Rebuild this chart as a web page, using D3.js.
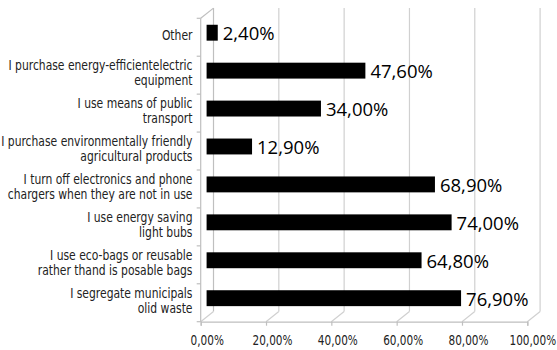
<!DOCTYPE html>
<html>
<head>
<meta charset="utf-8">
<script src="https://cdn.jsdelivr.net/npm/d3@7"></script>
<style>
  html, body { margin: 0; padding: 0; background: #ffffff; }
  svg { display: block; }
</style>
</head>
<body>
<svg id="chart" width="557" height="350"></svg>
<script>
// Survey answers, listed top to bottom as they appear on the chart
const categories = [
  "Other",
  "I purchase energy-efficientelectric equipment",
  "I use means of public transport",
  "I purchase environmentally friendly agricultural products",
  "I turn off electronics and phone chargers when they are not in use",
  "I use energy saving light bubs",
  "I use eco-bags or reusable rather thand is posable bags",
  "I segregate municipals olid waste"
];
// How each label wraps onto lines
const categoryLines = [
  ["Other"],
  ["I purchase energy-efficientelectric", "equipment"],
  ["I use means of public", "transport"],
  ["I purchase environmentally friendly", "agricultural products"],
  ["I turn off electronics and phone", "chargers when they are not in use"],
  ["I use energy saving", "light bubs"],
  ["I use eco-bags or reusable", "rather thand is posable bags"],
  ["I segregate municipals", "olid waste"]
];
// Share of respondents, in percent
const values = [2.4, 47.6, 34.0, 12.9, 68.9, 74.0, 64.8, 76.9];
// Value axis ticks, in percent
const xTicks = [0, 20, 40, 60, 80, 100];

const svg = d3.select("#chart");

// Front plane of the 3-D box, plus the depth offset to the back wall
const DX = 12.8, DY = 10.2;
const x = d3.scaleLinear().domain([0, 100]).range([200.7, 527.3]);
const y = d3.scaleBand().domain(categories).range([18.3, 321.7]);
const bw = y.bandwidth();
const floorY = y.range()[1];
const topY = y.range()[0];

const fmt = v => d3.format(".2f")(v).replace(".", ",") + "%";

const gridColor = "#d0d0d0";
const axisColor = "#bfbfbf";
const textColor = "#222222";
const narrowFont = "'DejaVu Sans Condensed', 'DejaVu Sans', sans-serif";

// Back wall gridlines
svg.append("g").selectAll("line").data(xTicks).join("line")
  .attr("x1", d => x(d) + DX).attr("x2", d => x(d) + DX)
  .attr("y1", topY - DY).attr("y2", floorY - DY)
  .attr("stroke", d => d === 0 ? axisColor : gridColor)
  .attr("stroke-width", 1.2);

// Floor: depth lines from each tick to the back wall
svg.append("g").selectAll("line").data(xTicks).join("line")
  .attr("x1", d => x(d)).attr("x2", d => x(d) + DX)
  .attr("y1", floorY).attr("y2", floorY - DY)
  .attr("stroke", gridColor).attr("stroke-width", 1.2);

// Side wall: front edge and top depth line
const side = svg.append("g").attr("stroke", axisColor).attr("stroke-width", 1.2);
side.append("line")
  .attr("x1", x(0)).attr("x2", x(0)).attr("y1", topY).attr("y2", floorY);
side.append("line")
  .attr("x1", x(0)).attr("x2", x(0) + DX).attr("y1", topY).attr("y2", topY - DY);

// Category tick marks on the side wall
side.selectAll("line.ctick").data(d3.range(categories.length + 1)).join("line")
  .attr("class", "ctick")
  .attr("x1", x(0) - 4).attr("x2", x(0))
  .attr("y1", i => topY + i * bw).attr("y2", i => topY + i * bw);

// Value axis along the front of the floor
const xAxis = svg.append("g")
  .attr("transform", `translate(0,${floorY})`)
  .call(d3.axisBottom(x).tickValues(xTicks).tickSize(4).tickFormat(fmt));
xAxis.select(".domain").attr("stroke", axisColor).attr("stroke-width", 1.2);
xAxis.selectAll(".tick line").attr("stroke", axisColor).attr("stroke-width", 1.2);
const tickText = xAxis.selectAll(".tick text")
  .attr("x", 0).attr("y", 23).attr("dy", null)
  .attr("fill", textColor)
  .style("font-family", narrowFont)
  .style("font-size", "13.5px");
// Condense the tick labels horizontally, centred a little behind the front edge
const tickW = tickText.filter(d => d === 20).node().getComputedTextLength();
const tickK = 40 / tickW;
tickText.attr("transform", d => `translate(${d === 100 ? 5 : 6},0) scale(${tickK},1)`);

// Bars: black boxes sitting between the front plane and the back wall
const p1 = 0.46, p2 = 0.72;
const barLeft = x(0) + p1 * DX;
const barEnd = v => x(v) + p2 * DX;
svg.append("g").selectAll("rect").data(categories).join("rect")
  .attr("x", barLeft)
  .attr("y", c => y(c) + bw / 2 - 12.5)
  .attr("width", (c, i) => barEnd(values[i]) - barLeft)
  .attr("height", 15.9)
  .attr("fill", "#000");

// Value labels at the end of each bar
svg.append("g").selectAll("text").data(categories).join("text")
  .attr("x", (c, i) => barEnd(values[i]) + 5)
  .attr("y", c => y(c) + bw / 2 + 3)
  .attr("fill", "#000")
  .style("font-family", "'Open Sans', sans-serif")
  .style("font-size", "18.5px")
  .text((c, i) => fmt(values[i]));

// Category labels, right aligned beside the side wall
const lh = 14.6;
const labelRight = 192.5;
const labels = svg.append("g")
  .attr("fill", textColor)
  .style("font-family", narrowFont)
  .style("font-size", "13.5px")
  .attr("text-anchor", "end");
categories.forEach((c, i) => {
  const lines = categoryLines[i];
  const center = y(c) + bw / 2 - 2.2;
  const first = center - (lines.length - 1) * lh / 2 + 4.8;
  const t = labels.append("text").attr("x", labelRight).attr("y", first);
  lines.forEach((ln, j) => {
    t.append("tspan").attr("x", labelRight).attr("y", first + j * lh).text(ln);
  });
});
// Condense the label block so the widest line spans the space left of the axis
const probe = labels.append("text").text(categoryLines[3][0]);
const labelK = 191.6 / probe.node().getComputedTextLength();
probe.remove();
labels.attr("transform",
  `translate(${labelRight},0) scale(${labelK},1) translate(${-labelRight},0)`);
</script>
</body>
</html>
